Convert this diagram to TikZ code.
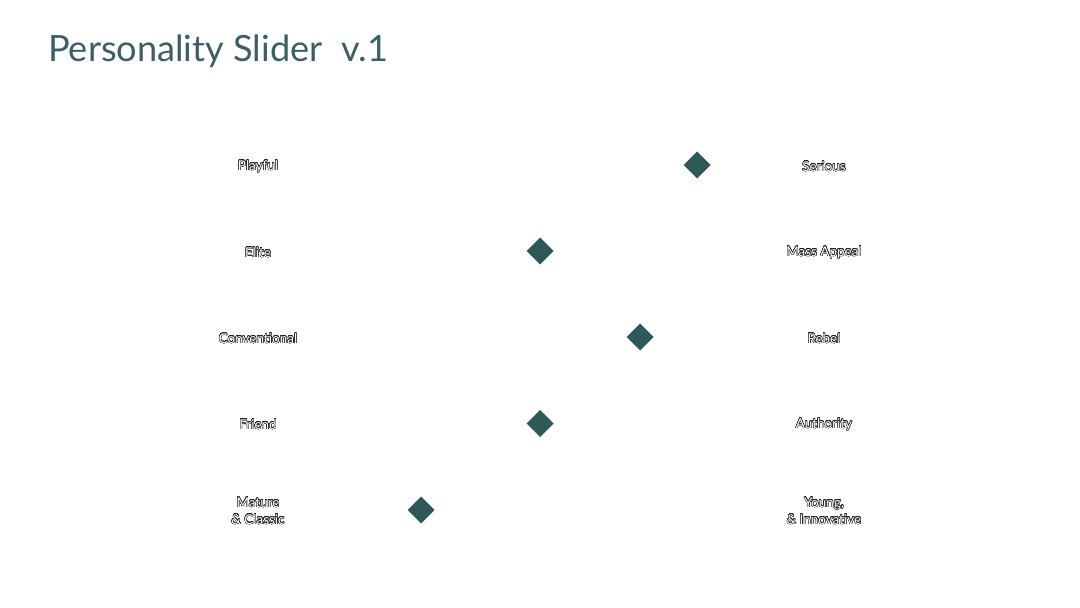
\documentclass[tikz,border=0pt]{standalone}
\usepackage{fontspec}
\setmainfont{Lato}
\usepackage{contour}
\contourlength{0.35pt}
\contournumber{24}
\definecolor{titlecol}{HTML}{3D5F64}
\definecolor{diacol}{HTML}{2F5958}
\definecolor{edgecol}{HTML}{222222}
\tikzset{
  lbl/.style={font=\fontsize{13.5}{17}\selectfont, align=center, inner sep=0pt},
}
\newcommand{\olt}[1]{\contour{edgecol}{\textcolor{white}{#1}}}
\begin{document}
\begin{tikzpicture}[x=1bp,y=-1bp]
\useasboundingbox (0,0) rectangle (1080,608);
\node[anchor=base west, inner sep=0pt, text=titlecol, font=\fontsize{36.3}{44}\selectfont] (title) at (48,62) {Personality Slider\hspace{0.52em}v.1};
% left labels
\node[lbl] (l1) at (258,166.5) {\olt{Playful}};
\node[lbl] (l2) at (258,252.5) {\olt{Elite}};
\node[lbl] (l3) at (258,338.5) {\olt{Conventional}};
\node[lbl] (l4) at (258,424.5) {\olt{Friend}};
\node[lbl] (l5) at (258,511) {\olt{Mature}\\\olt{\& Classic}};
% right labels
\node[lbl] (r1) at (824,166.5) {\olt{Serious}};
\node[lbl] (r2) at (824,252.5) {\olt{Mass Appeal}};
\node[lbl] (r3) at (824,338.5) {\olt{Rebel}};
\node[lbl] (r4) at (824,424.5) {\olt{Authority}};
\node[lbl] (r5) at (824,511) {\olt{Young,}\\\olt{\& Innovative}};
% diamonds
\foreach \n/\x/\y in {d1/697/165, d2/540/251, d3/640/337, d4/540/423.5, d5/421/510}{
  \fill[diacol] (\x-13.5,\y) -- (\x,\y-13.5) -- (\x+13.5,\y) -- (\x,\y+13.5) -- cycle;
}
\end{tikzpicture}
\end{document}
